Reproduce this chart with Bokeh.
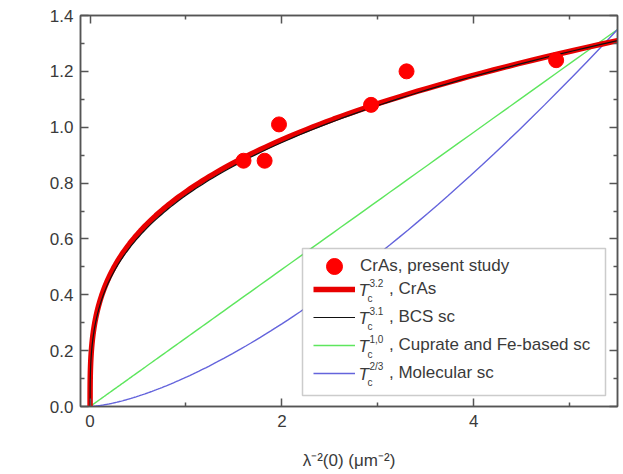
import numpy as np
from bokeh.plotting import figure
from bokeh.models import (FixedTicker, NumeralTickFormatter, LinearAxis, Legend, LegendItem,
                          Label, BoxAnnotation, Range1d, CustomLabelingPolicy)
from bokeh.embed import file_html
from bokeh.resources import INLINE

# ---- data ----
lam2_pts = [1.60, 1.82, 1.97, 2.93, 3.30, 4.86]      # λ^-2(0) (µm^-2)
tc_pts = [0.88, 0.88, 1.01, 1.08, 1.20, 1.24]        # Tc (K)

# power-law curves  Tc^n ∝ λ^-2  ->  Tc = A * x^(1/n)
curve_names = ["CrAs", "BCS sc", "Cuprate and Fe-based sc", "Molecular sc"]
curve_exp_labels = ["3.2", "3.1", "1,0", "2/3"]
curve_n = [3.2, 3.1, 1.0, 2.0 / 3.0]
curve_tc_end = [1.31, 1.31, 1.35, 1.35]              # Tc value at x = 5.5
x_end = 5.5

x_ticks = [0, 2, 4]
x_minor = [1, 3, 5]
y_ticks = [0.0, 0.2, 0.4, 0.6, 0.8, 1.0, 1.2, 1.4]
y_minor = [0.1, 0.3, 0.5, 0.7, 0.9, 1.1, 1.3]

FONT = "Liberation Sans"
TXT = "#3a3a3a"
AX = "#555555"

p = figure(width=623, height=474, output_backend="svg", toolbar_location=None,
           x_range=Range1d(-0.1, 5.5), y_range=Range1d(0, 1.4),
           min_border_left=80, min_border_right=6, min_border_top=15, min_border_bottom=68)
p.grid.visible = False
p.outline_line_color = AX
p.outline_line_width = 1.5
p.background_fill_color = "white"
p.border_fill_color = "white"

xs = np.concatenate([[0.0], np.logspace(-7, np.log10(x_end), 600)])
colors = ["#e80000", "#111111", "#5ee65e", "#6464dc"]
widths = [5.5, 1.2, 1.4, 1.4]
order = [2, 3, 0, 1]
rmap = {}
for i in order:
    A = curve_tc_end[i] / x_end ** (1.0 / curve_n[i])
    ys = A * xs ** (1.0 / curve_n[i])
    rmap[i] = p.line(xs, ys, line_color=colors[i], line_width=widths[i])

pts = p.scatter(lam2_pts, tc_pts, size=15, marker="circle", fill_color="#ff0000",
                line_color="#ff0000")

no_labels = CustomLabelingPolicy(code="""
try { indices.clear(); return indices; }
catch (e) { return new indices.constructor(indices.size, 0); }
""")

def style_axis(ax, show_labels):
    ax.axis_line_color = AX
    ax.axis_line_width = 1.5
    ax.major_tick_line_color = AX
    ax.minor_tick_line_color = AX
    ax.major_tick_line_width = 1.5
    ax.minor_tick_line_width = 1.5
    ax.major_tick_in = 8
    ax.major_tick_out = 0
    ax.minor_tick_in = 4
    ax.minor_tick_out = 0
    ax.major_label_text_font = FONT
    ax.major_label_text_color = TXT
    if show_labels:
        ax.major_label_text_font_size = "17px"
    else:
        ax.major_label_text_font_size = "0px"
        ax.major_label_policy = no_labels

p.xaxis.ticker = FixedTicker(ticks=x_ticks, minor_ticks=x_minor)
p.yaxis.ticker = FixedTicker(ticks=y_ticks, minor_ticks=y_minor)
p.yaxis.formatter = NumeralTickFormatter(format="0.0")
style_axis(p.xaxis[0], True)
style_axis(p.yaxis[0], True)
p.xaxis.major_label_standoff = 8
p.yaxis.major_label_standoff = 7
p.xaxis.axis_label = "λ⁻²(0) (μm⁻²)"
p.xaxis.axis_label_text_font = FONT
p.xaxis.axis_label_text_font_size = "17px"
p.xaxis.axis_label_text_font_style = "normal"
p.xaxis.axis_label_text_color = TXT
p.xaxis.axis_label_standoff = 21

top = LinearAxis(ticker=FixedTicker(ticks=x_ticks, minor_ticks=x_minor), major_label_standoff=0)
right = LinearAxis(ticker=FixedTicker(ticks=y_ticks, minor_ticks=y_minor), major_label_standoff=0)
style_axis(top, False)
style_axis(right, False)
p.add_layout(top, "above")
p.add_layout(right, "right")

FL, FB = 80, 406  # frame left / bottom in canvas px
def lab(text, cx, cy, size, style="normal", angle=0.0, align="left", baseline="middle"):
    p.add_layout(Label(x=cx - FL, y=FB - cy, x_units="screen", y_units="screen", text=text,
                       text_font=FONT, text_font_size=size, text_font_style=style,
                       text_color=TXT, angle=angle, text_align=align, text_baseline=baseline))

# y-axis label  T_c (K)
lab("T", 27, 234, "18px", "italic", angle=np.pi / 2)
lab("c", 36, 221, "11px", angle=np.pi / 2)
lab("(K)", 27, 211, "18px", angle=np.pi / 2)

# legend box
p.add_layout(BoxAnnotation(left=302 - FL, right=605 - FL, top=FB - 248, bottom=FB - 395,
                           left_units="screen", right_units="screen",
                           top_units="screen", bottom_units="screen",
                           fill_color="white", fill_alpha=1.0,
                           line_color=AX, line_width=1.5, level="annotation"))

leg1 = Legend(items=[LegendItem(label="CrAs, present study", renderers=[pts])],
              location=(233, FB - 286), glyph_width=42, glyph_height=40, padding=0, margin=0,
              spacing=0, label_standoff=5, border_line_alpha=0, background_fill_alpha=0,
              label_text_font=FONT, label_text_font_size="17px", label_text_color=TXT,
              label_height=20)
leg2 = Legend(items=[LegendItem(label=", " + curve_names[i], renderers=[rmap[i]]) for i in range(4)],
              location=(233, FB - 385), glyph_width=42, glyph_height=24, padding=0, margin=0,
              spacing=4, label_standoff=34, border_line_alpha=0, background_fill_alpha=0,
              label_text_font=FONT, label_text_font_size="17px", label_text_color=TXT,
              label_height=20)
p.add_layout(leg1, "center")
p.add_layout(leg2, "center")

row_y = [289, 317, 345, 373]
for i in range(4):
    cy = row_y[i]
    lab("T", 358, cy + 1, "17px", "italic")
    lab("c", 367, cy + 9, "10px")
    lab(curve_exp_labels[i], 369, cy - 7, "10px")

open("out.html", "w").write(file_html(p, INLINE))
